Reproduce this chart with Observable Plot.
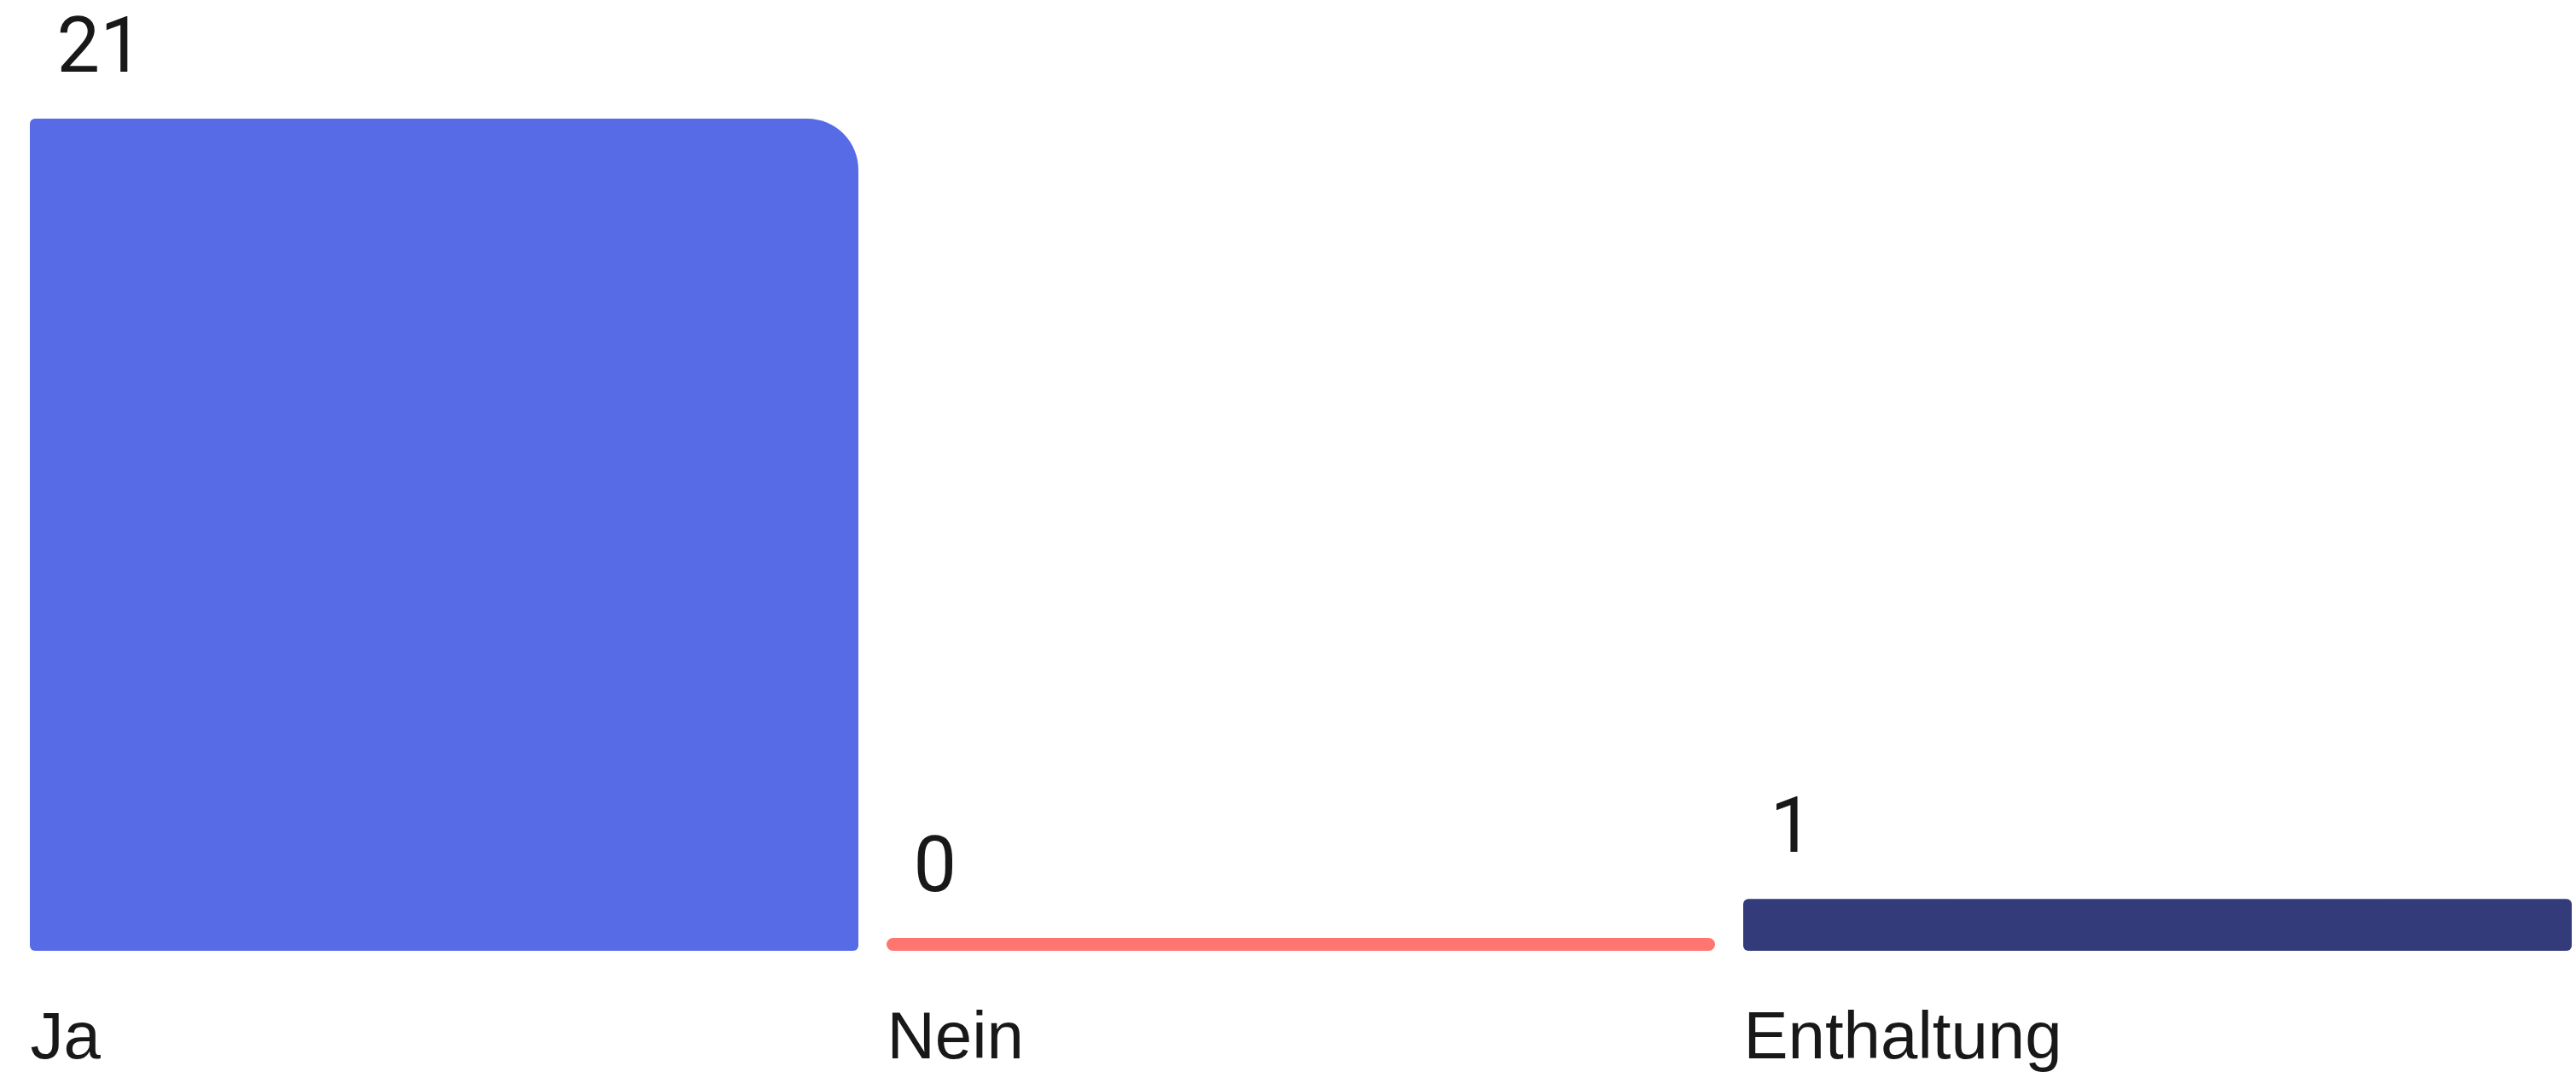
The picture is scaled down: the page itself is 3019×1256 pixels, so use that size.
<!DOCTYPE html>
<html>
<head>
<meta charset="utf-8">
<script src="https://cdn.jsdelivr.net/npm/d3@7"></script>
<script src="https://cdn.jsdelivr.net/npm/@observablehq/plot@0.6"></script>
<style>
  html, body { margin: 0; padding: 0; background: #ffffff; }
  #chart svg { display: block; }
</style>
</head>
<body>
<div id="chart"></div>
<script>
const categories = ["Ja", "Nein", "Enthaltung"];
const votes = [21, 0, 1];

const palette = ["#576BE6", "#FF7570", "#333B7B"];
const textColor = "#181818";

const data = categories.map((c, i) => ({category: c, votes: votes[i]}));

const W = 3019, H = 1256;
const mL = 35, mR = 5, mT = 154, mB = 142, pad = 0.033;
const bw = (W - mL - mR) / (categories.length - pad) * (1 - pad);
const minBar = 15;

const common = {x: "category", y: "votes", fill: "category", insetTop: -minBar};

const plot = Plot.plot({
  width: W,
  height: H,
  marginLeft: mL,
  marginRight: mR,
  marginTop: mT,
  marginBottom: mB,
  style: {background: "#ffffff", fontFamily: "Liberation Sans, Arial, sans-serif"},
  x: {type: "band", domain: categories, paddingInner: pad, paddingOuter: 0, axis: null},
  y: {domain: [0, d3.max(votes)], axis: null},
  color: {domain: categories, range: palette},
  marks: [
    Plot.barY(data, {...common, filter: d => d.category === "Ja", r: 6, rx2y1: 60}),
    Plot.barY(data, {...common, filter: d => d.category === "Nein", r: 8}),
    Plot.barY(data, {...common, filter: d => d.category === "Enthaltung", r: 6}),
    Plot.text(data, {
      x: "category", y: "votes", text: d => String(d.votes),
      textAnchor: "start", lineAnchor: "bottom",
      dx: -bw / 2 + 31, dy: -minBar - 56,
      fontSize: 90, fill: textColor, fontFamily: "Roboto"
    }),
    Plot.text(data, {
      x: "category", y: d => 0, text: "category",
      textAnchor: "start", lineAnchor: "bottom",
      dx: -bw / 2, dy: 125,
      fontSize: 78, fill: textColor, fontFamily: "Liberation Sans"
    })
  ]
});
document.getElementById("chart").appendChild(plot);
</script>
</body>
</html>
